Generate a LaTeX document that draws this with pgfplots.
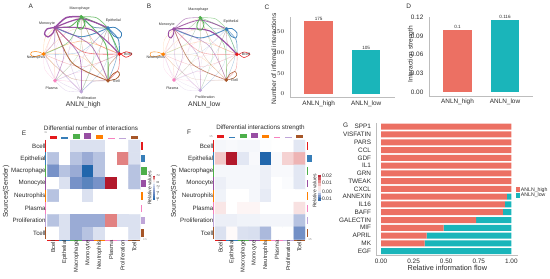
\documentclass[border=0pt]{standalone}
\usepackage{fontspec}
\setmainfont{Liberation Sans}
\usepackage{pgfplots}
\pgfplotsset{compat=1.18}
\definecolor{cBcell}{HTML}{E41A1C}
\definecolor{cEpi}{HTML}{377EB8}
\definecolor{cMac}{HTML}{4DAF4A}
\definecolor{cMon}{HTML}{984EA3}
\definecolor{cNeu}{HTML}{FF7F00}
\definecolor{cPla}{HTML}{F781BF}
\definecolor{cPro}{HTML}{BFA5D8}
\definecolor{cTce}{HTML}{A65628}
\definecolor{cHigh}{HTML}{EC7063}
\definecolor{cLow}{HTML}{1AB5BA}
\definecolor{axgrey}{HTML}{BDBDBD}
\definecolor{txt}{HTML}{2A2A2A}
\pgfplotsset{
  rwb/.style={colormap={rwb}{rgb255(0cm)=(33,102,172); rgb255(1cm)=(135,155,205); rgb255(2cm)=(255,255,255); rgb255(3cm)=(226,130,130); rgb255(4cm)=(178,24,43)}, point meta min=-1, point meta max=1},
  px/.style={scale only axis, anchor=south west, clip=false},
  classic/.style={px, axis lines=left, axis line style={axgrey, line width=0.8pt, -}, tick style={draw=none},
    ticklabel style={font=\fontsize{6.4}{7}\selectfont, text=txt},
    x tick label style={yshift=2.5pt},
    label style={font=\fontsize{6.6}{7}\selectfont, text=txt}},
  heat/.style={px, rwb, y dir=reverse, xmin=0, xmax=8, ymin=0, ymax=8, axis line style={draw=none}, tick style={draw=none}, axis on top,
    xtick={0.5,1.5,2.5,3.5,4.5,5.5,6.5,7.5}, ytick={0.5,1.5,2.5,3.5,4.5,5.5,6.5,7.5},
    xticklabels={Bcell,Epithelial,Macrophage,Monocyte,Neutrophils,Plasma,Proliferation,Tcell},
    yticklabels={Bcell,Epithelial,Macrophage,Monocyte,Neutrophils,Plasma,Proliferation,Tcell},
    xticklabel style={rotate=90, anchor=east, font=\fontsize{5.7}{6}\selectfont, text=txt, inner sep=1pt},
    yticklabel style={font=\fontsize{6.2}{7}\selectfont, text=txt, inner sep=1.5pt},
    ylabel style={font=\fontsize{6.9}{7}\selectfont, text=txt}},
  hid/.style={px, hide axis},
  net/.style={px, hide axis, y dir=reverse, xmin=0, xmax=130, ymin=0, ymax=110, width=130pt, height=110pt},
}
\newcommand\lab[4][]{\node[font=\fontsize{#2}{#2}\selectfont, text=txt, inner sep=0pt, #1] at (#3) {#4};}
% chord edges
\newif\ifpanelB
\newcommand\setnode[3]{\expandafter\def\csname nx#1\endcsname{#2}\expandafter\def\csname ny#1\endcsname{#3}}
\newcommand\edge[4]{%
  \ifpanelB\def\w{#4}\else\def\w{#3}\fi
  \pgfmathsetmacro\xa{\csname nx#1\endcsname}\pgfmathsetmacro\ya{\csname ny#1\endcsname}%
  \pgfmathsetmacro\xb{\csname nx#2\endcsname}\pgfmathsetmacro\yb{\csname ny#2\endcsname}%
  \pgfmathsetmacro\xm{(\xa+\xb)/2+0.17*(\yb-\ya)}\pgfmathsetmacro\ym{(\ya+\yb)/2-0.17*(\xb-\xa)}%
  \pgfmathsetmacro\op{min(1,0.12+0.6*\w)}%
  \pgfmathsetmacro\lw{0.75*\w}%
  \edef\tmp{\noexpand\addplot[smooth, no marks, c#1, line width=\lw pt, opacity=\op] coordinates {(\xa,\ya)(\xm,\ym)(\xb,\yb)};}\tmp}
\newcommand\alledges{%
 \edge{Pla}{Pro}{.4}{.35}\edge{Pla}{Neu}{.35}{.3}\edge{Pla}{Bcell}{.3}{.3}\edge{Pla}{Mac}{.3}{.3}\edge{Pla}{Epi}{.3}{.3}\edge{Pla}{Tce}{.5}{.45}\edge{Pla}{Mon}{.4}{.4}%
 \edge{Pro}{Neu}{.5}{.35}\edge{Pro}{Pla}{.5}{.4}\edge{Pro}{Bcell}{.5}{.3}\edge{Pro}{Epi}{.5}{.35}\edge{Pro}{Tce}{.7}{.4}\edge{Pro}{Mac}{.6}{.4}\edge{Pro}{Mon}{.9}{.6}%
 \edge{Neu}{Bcell}{.6}{.35}\edge{Neu}{Tce}{.4}{.3}\edge{Neu}{Pla}{.3}{.25}\edge{Neu}{Mac}{.3}{.25}\edge{Neu}{Mon}{.4}{.3}\edge{Neu}{Epi}{.3}{.25}%
 \edge{Bcell}{Tce}{.7}{.5}\edge{Bcell}{Mac}{.5}{.35}\edge{Bcell}{Epi}{.6}{.4}\edge{Bcell}{Neu}{.4}{.3}\edge{Bcell}{Mon}{.8}{.5}%
 \edge{Tce}{Neu}{.5}{.3}\edge{Tce}{Bcell}{.7}{.45}\edge{Tce}{Epi}{.5}{.45}\edge{Tce}{Mac}{.5}{.4}\edge{Tce}{Mon}{1.2}{.9}%
 \edge{Epi}{Tce}{.8}{.5}\edge{Epi}{Neu}{.5}{.3}\edge{Epi}{Pro}{.4}{.35}\edge{Epi}{Pla}{.3}{.25}\edge{Epi}{Bcell}{1.2}{.9}\edge{Epi}{Mac}{1.0}{.6}\edge{Epi}{Mon}{1.2}{1.2}%
 \edge{Mac}{Pla}{.4}{.3}\edge{Mac}{Pro}{.5}{.4}\edge{Mac}{Neu}{.8}{.4}\edge{Mac}{Tce}{1.2}{.7}\edge{Mac}{Bcell}{1.2}{.7}\edge{Mac}{Epi}{1.0}{.7}\edge{Mac}{Mon}{1.2}{.5}%
 \edge{Mon}{Neu}{.6}{.35}\edge{Mon}{Pla}{.7}{.5}\edge{Mon}{Pro}{1.0}{.6}\edge{Mon}{Tce}{1.0}{.7}\edge{Mon}{Bcell}{1.4}{1.5}\edge{Mon}{Epi}{1.6}{1.2}\edge{Mon}{Mac}{2.0}{.8}%
}
\newcommand\tb[3]{\addplot[ybar, bar width=0.6, bar shift=0pt, fill=#1, draw=none] coordinates {(#2,#3)};}
\newcommand\rb[3]{\addplot[xbar, bar width=0.6, bar shift=0pt, fill=#1, draw=none] coordinates {(#3,#2)};}
\newcommand\strips{%
 \addplot[cBcell,line width=1.1pt] coordinates {(-0.12,0)(-0.12,1)};\addplot[cEpi,line width=1.1pt] coordinates {(-0.12,1)(-0.12,2)};
 \addplot[cMac,line width=1.1pt] coordinates {(-0.12,2)(-0.12,3)};\addplot[cMon,line width=1.1pt] coordinates {(-0.12,3)(-0.12,4)};
 \addplot[cNeu,line width=1.1pt] coordinates {(-0.12,4)(-0.12,5)};\addplot[cPla,line width=1.1pt] coordinates {(-0.12,5)(-0.12,6)};
 \addplot[cPro,line width=1.1pt] coordinates {(-0.12,6)(-0.12,7)};\addplot[cTce,line width=1.1pt] coordinates {(-0.12,7)(-0.12,8)};
 \addplot[cBcell,line width=1.1pt] coordinates {(0,8.1)(1,8.1)};\addplot[cEpi,line width=1.1pt] coordinates {(1,8.1)(2,8.1)};
 \addplot[cMac,line width=1.1pt] coordinates {(2,8.1)(3,8.1)};\addplot[cMon,line width=1.1pt] coordinates {(3,8.1)(4,8.1)};
 \addplot[cNeu,line width=1.1pt] coordinates {(4,8.1)(5,8.1)};\addplot[cPla,line width=1.1pt] coordinates {(5,8.1)(6,8.1)};
 \addplot[cPro,line width=1.1pt] coordinates {(6,8.1)(7,8.1)};\addplot[cTce,line width=1.1pt] coordinates {(7,8.1)(8,8.1)};
}
\begin{document}
\begin{tikzpicture}[x=1pt,y=1pt]
\path[use as bounding box] (0,0) rectangle (550,279);

%% ---------- A ----------
\panelBfalse
\setnode{Mac}{56.3}{6.7}\setnode{Epi}{83}{18}\setnode{Bcell}{94.5}{44}\setnode{Tce}{83}{70.7}
\setnode{Pro}{56.3}{81.7}\setnode{Pla}{30}{70.7}\setnode{Neu}{18.7}{44}\setnode{Mon}{30}{17.5}
\begin{axis}[net, at={(25pt,159pt)}]
\alledges
\addplot[smooth, cMac, line width=.9pt] coordinates {(56.3,6.7)(52.5,13)(53,18)(57,19)(60,13)(56.3,6.7)};
\addplot[smooth, cEpi, line width=.8pt] coordinates {(83,18)(90,17.5)(96.5,23)(95,28)(89,26)(83,18)};
\addplot[smooth, cBcell, line width=.6pt] coordinates {(96,44)(101,41.8)(107,44)(101,47.2)(96,44)};
\addplot[smooth, cTce, line width=.7pt] coordinates {(83,70.7)(88,64)(93,61.5)(94.5,65)(91,69)(83,70.7)};
\addplot[smooth, cMon, line width=1.3pt] coordinates {(30,17.5)(22,19)(19.5,24)(23,27)(28,23)(30,17.5)};
\addplot[smooth, cNeu, line width=.5pt] coordinates {(18.7,44)(13,41.8)(7,42)(5.7,44.5)(9,46.7)(18.7,44)};
\addplot[only marks, mark=*, mark size=1.6pt, cMac] coordinates {(56.3,6.7)};
\addplot[only marks, mark=*, mark size=1.6pt, cEpi] coordinates {(83,18)};
\addplot[only marks, mark=*, mark size=1.6pt, cBcell] coordinates {(94.5,44)};
\addplot[only marks, mark=*, mark size=1.6pt, cTce] coordinates {(83,70.7)};
\addplot[only marks, mark=*, mark size=1.6pt, cPro] coordinates {(56.3,81.7)};
\addplot[only marks, mark=*, mark size=1.6pt, cPla] coordinates {(30,70.7)};
\addplot[only marks, mark=*, mark size=1.6pt, cNeu] coordinates {(18.7,44)};
\addplot[only marks, mark=*, mark size=1.6pt, cMon] coordinates {(30,17.5)};
\end{axis}
\lab{3.6}{79.7,270.7}{Macrophage}\lab{3.6}{113.3,258.3}{Epithelial}\lab{3.6}{128,225}{Bcell}\lab{3.6}{116,198}{Tcell}
\lab{3.6}{86.7,180.3}{Proliferation}\lab{3.6}{51.7,190.7}{Plasma}\lab{3.6}{36,221.7}{Neutrophils}\lab{3.6}{47,255}{Monocyte}
\lab{6.8}{83.3,174}{ANLN\_high}

%% ---------- B ----------
\panelBtrue
\setnode{Mac}{60.3}{7.7}\setnode{Epi}{86.7}{19}\setnode{Bcell}{97}{44.3}\setnode{Tce}{86.3}{70}
\setnode{Pro}{60.3}{80.3}\setnode{Pla}{34}{70}\setnode{Neu}{23.3}{44.3}\setnode{Mon}{34}{19}
\begin{axis}[net, at={(140pt,159pt)}]
\alledges
\addplot[smooth, cMac, line width=.7pt] coordinates {(60.3,7.7)(57,14)(57.5,19)(61.5,20)(64,14)(60.3,7.7)};
\addplot[smooth, cEpi, line width=.7pt] coordinates {(86.7,19)(92,18.5)(97,23)(96,28)(91,26)(86.7,19)};
\addplot[smooth, cBcell, line width=.5pt] coordinates {(99,44.3)(104,42)(110,44.3)(104,47.5)(99,44.3)};
\addplot[smooth, cTce, line width=.5pt] coordinates {(86.3,70)(90,64)(95,61.5)(96.7,65)(93,68.5)(86.3,70)};
\addplot[smooth, cMon, line width=.9pt] coordinates {(34,19)(29,21)(28.5,26)(31,28)(33.5,24)(34,19)};
\addplot[smooth, cNeu, line width=.4pt] coordinates {(23.3,44.3)(17,42)(11,42.3)(10,44.7)(13,47)(23.3,44.3)};
\addplot[only marks, mark=*, mark size=1.6pt, cMac] coordinates {(60.3,7.7)};
\addplot[only marks, mark=*, mark size=1.6pt, cEpi] coordinates {(86.7,19)};
\addplot[only marks, mark=*, mark size=1.6pt, cBcell] coordinates {(97,44.3)};
\addplot[only marks, mark=*, mark size=1.6pt, cTce] coordinates {(86.3,70)};
\addplot[only marks, mark=*, mark size=1.6pt, cPro] coordinates {(60.3,80.3)};
\addplot[only marks, mark=*, mark size=1.6pt, cPla] coordinates {(34,70)};
\addplot[only marks, mark=*, mark size=1.6pt, cNeu] coordinates {(23.3,44.3)};
\addplot[only marks, mark=*, mark size=1.6pt, cMon] coordinates {(34,19)};
\end{axis}
\lab{3.6}{198.3,269.7}{Macrophage}\lab{3.6}{231,257.7}{Epithelial}\lab{3.6}{245.7,225}{Bcell}\lab{3.6}{234.3,198.3}{Tcell}
\lab{3.6}{205,181.7}{Proliferation}\lab{3.6}{172.3,191}{Plasma}\lab{3.6}{155.7,221.7}{Neutrophils}\lab{3.6}{166.7,254}{Monocyte}
\lab{6.8}{204.3,174}{ANLN\_low}

%% ---------- C ----------
\begin{axis}[classic, at={(290pt,181.7pt)}, width=105pt, height=80.3pt,
  xmin=-0.604, xmax=1.606, ymin=-7.9, ymax=184.6, ytick={0,50,100,150},
  xtick={0,1}, xticklabels={ANLN\_high,ANLN\_low},
  ylabel={Number of inferred interactions},
  ylabel style={at={(axis description cs:-0.155,0.48)}, anchor=center},
  nodes near coords, point meta=explicit symbolic,
  every node near coord/.append style={font=\fontsize{4.6}{5}\selectfont, text=txt, inner sep=0.7pt}]
\addplot[ybar, bar width=28.5pt, bar shift=0pt, fill=cHigh, draw=none] coordinates {(0,175)[175]};
\addplot[ybar, bar width=28.5pt, bar shift=0pt, fill=cLow, draw=none] coordinates {(1,105)[105]};
\end{axis}

%% ---------- D ----------
\begin{axis}[classic, at={(429pt,183pt)}, width=104pt, height=79pt,
  xmin=-0.6, xmax=1.589, ymin=-0.0064, ymax=0.1204, ytick={0,0.03,0.06,0.09,0.12},
  yticklabels={0.00,0.03,0.06,0.09,0.12},
  xtick={0,1}, xticklabels={ANLN\_high,ANLN\_low},
  ylabel={Interaction strength},
  ylabel style={at={(axis description cs:-0.175,0.53)}, anchor=center},
  nodes near coords, point meta=explicit symbolic,
  every node near coord/.append style={font=\fontsize{4.6}{5}\selectfont, text=txt, inner sep=0.7pt}]
\addplot[ybar, bar width=28.5pt, bar shift=0pt, fill=cHigh, draw=none] coordinates {(0,0.1)[0.1]};
\addplot[ybar, bar width=28.5pt, bar shift=0pt, fill=cLow, draw=none] coordinates {(1,0.116)[0.116]};
\end{axis}

%% ---------- E ----------
\begin{axis}[heat, at={(47.3pt,39.7pt)}, width=92.8pt, height=99.3pt,
  ylabel={Sources(Sender)}, ylabel style={at={(axis description cs:-0.445,0.48)}, anchor=center}]
\addplot[matrix plot*, mesh/cols=8, point meta=explicit] coordinates {
(0.5,0.5)[0](1.5,0.5)[0](2.5,0.5)[-.15](3.5,0.5)[-.15](4.5,0.5)[-.15](5.5,0.5)[0](6.5,0.5)[0](7.5,0.5)[-.15]
(0.5,1.5)[-.3](1.5,1.5)[0](2.5,1.5)[-.3](3.5,1.5)[-.42](4.5,1.5)[-.3](5.5,1.5)[0](6.5,1.5)[.5](7.5,1.5)[-.15]
(0.5,2.5)[-.58](1.5,2.5)[-.3](2.5,2.5)[-.42](3.5,2.5)[-1](4.5,2.5)[-.3](5.5,2.5)[0](6.5,2.5)[0](7.5,2.5)[-.3]
(0.5,3.5)[0](1.5,3.5)[-.15](2.5,3.5)[-.58](3.5,3.5)[-.72](4.5,3.5)[-.58](5.5,3.5)[1](6.5,3.5)[0](7.5,3.5)[-.3]
(0.5,4.5)[-.3](1.5,4.5)[0](2.5,4.5)[0](3.5,4.5)[-.15](4.5,4.5)[0](5.5,4.5)[0](6.5,4.5)[0](7.5,4.5)[0]
(0.5,5.5)[0](1.5,5.5)[0](2.5,5.5)[0](3.5,5.5)[0](4.5,5.5)[0](5.5,5.5)[0](6.5,5.5)[0](7.5,5.5)[0]
(0.5,6.5)[-.3](1.5,6.5)[-.15](2.5,6.5)[-.42](3.5,6.5)[-.42](4.5,6.5)[-.42](5.5,6.5)[.5](6.5,6.5)[-.15](7.5,6.5)[-.15]
(0.5,7.5)[0](1.5,7.5)[-.15](2.5,7.5)[-.42](3.5,7.5)[-.3](4.5,7.5)[-.15](5.5,7.5)[0](6.5,7.5)[0](7.5,7.5)[-.15]
};
\strips
\end{axis}
\begin{axis}[hid, at={(47.3pt,140.3pt)}, width=92.8pt, height=6pt, xmin=0, xmax=8, ymin=0, ymax=6]
\tb{cBcell}{0.5}{2.7}\tb{cEpi}{1.5}{1.3}\tb{cMac}{2.5}{4.3}\tb{cMon}{3.5}{5.7}\tb{cNeu}{4.5}{3.3}\tb{cPla}{5.5}{1}\tb{cPro}{6.5}{1}\tb{cTce}{7.5}{2.3}
\end{axis}
\begin{axis}[hid, at={(141pt,39.7pt)}, width=6pt, height=99.3pt, xmin=0, xmax=6, ymin=0, ymax=8, y dir=reverse]
\rb{cBcell}{0.5}{2}\rb{cEpi}{1.5}{3.7}\rb{cMac}{2.5}{6}\rb{cMon}{3.5}{5.3}\rb{cNeu}{4.5}{1.7}\rb{cPla}{5.5}{0.3}\rb{cPro}{6.5}{4.5}\rb{cTce}{7.5}{2.7}
\end{axis}
\begin{axis}[hid, rwb, at={(152.7pt,79.3pt)}, width=2.2pt, height=24pt, xmin=-1, xmax=1, ymin=175.7, ymax=199.7, y dir=reverse]
\addplot[mesh, line width=2.2pt, point meta=explicit] coordinates {(0,175.7)[1](0,177.3)[.7](0,179)[.4](0,180.5)[.2](0,182)[0](0,184)[-.12](0,186)[-.25](0,188)[-.35](0,190)[-.45](0,192)[-.55](0,194)[-.65](0,196)[-.78](0,198)[-.9](0,199.7)[-1]};
\end{axis}
\lab[rotate=90]{5}{149.5,91}{Relative values}
\lab[rotate=90]{3.6}{158,103.3}{2}\lab[rotate=90]{3.6}{158,97}{0}\lab[rotate=90]{3.6}{158,91.5}{−2}\lab[rotate=90]{3.6}{158,85.5}{−4}\lab[rotate=90]{3.6}{158,79.5}{−6}
\lab[text=gray]{2.6}{45.7,146}{15}\lab[text=gray]{2.6}{145,39}{0 5}
\lab{6.3}{91,151}{Differential number of interactions}
\lab{6.5}{24,146}{E}

%% ---------- F ----------
\begin{axis}[heat, at={(215pt,39.7pt)}, width=90pt, height=99.3pt,
  ylabel={Sources(Sender)}, ylabel style={at={(axis description cs:-0.455,0.48)}, anchor=center}]
\addplot[matrix plot*, mesh/cols=8, point meta=explicit] coordinates {
(0.5,0.5)[-.04](1.5,0.5)[-.03](2.5,0.5)[-.04](3.5,0.5)[-.04](4.5,0.5)[-.01](5.5,0.5)[0](6.5,0.5)[0](7.5,0.5)[-.12]
(0.5,1.5)[.22](1.5,1.5)[1](2.5,1.5)[-.12](3.5,1.5)[-.03](4.5,1.5)[-1](5.5,1.5)[-.03](6.5,1.5)[.18](7.5,1.5)[.3]
(0.5,2.5)[-.04](1.5,2.5)[-.04](2.5,2.5)[-.04](3.5,2.5)[-.04](4.5,2.5)[-.08](5.5,2.5)[-.03](6.5,2.5)[-.03](7.5,2.5)[-.12]
(0.5,3.5)[-.08](1.5,3.5)[-.04](2.5,3.5)[-.04](3.5,3.5)[-.04](4.5,3.5)[-.08](5.5,3.5)[0](6.5,3.5)[-.02](7.5,3.5)[-.12]
(0.5,4.5)[-.06](1.5,4.5)[0](2.5,4.5)[0](3.5,4.5)[-.04](4.5,4.5)[-.1](5.5,4.5)[0](6.5,4.5)[0](7.5,4.5)[0]
(0.5,5.5)[.1](1.5,5.5)[0](2.5,5.5)[.04](3.5,5.5)[.04](4.5,5.5)[0](5.5,5.5)[0](6.5,5.5)[0](7.5,5.5)[.12]
(0.5,6.5)[-.08](1.5,6.5)[-.08](2.5,6.5)[-.06](3.5,6.5)[-.06](4.5,6.5)[-.05](5.5,6.5)[-.05](6.5,6.5)[-.05](7.5,6.5)[-.3]
(0.5,7.5)[-.15](1.5,7.5)[.02](2.5,7.5)[-.15](3.5,7.5)[-.16](4.5,7.5)[-.35](5.5,7.5)[0](6.5,7.5)[0](7.5,7.5)[-.6]
};
\strips
\end{axis}
\begin{axis}[hid, at={(215pt,141pt)}, width=90pt, height=6pt, xmin=0, xmax=8, ymin=0, ymax=6]
\tb{cBcell}{0.5}{3}\tb{cEpi}{1.5}{1.3}\tb{cMac}{2.5}{4.3}\tb{cMon}{3.5}{5.5}\tb{cNeu}{4.5}{3}\tb{cPla}{5.5}{1}\tb{cPro}{6.5}{1}\tb{cTce}{7.5}{3}
\end{axis}
\begin{axis}[hid, at={(306.7pt,39.7pt)}, width=6pt, height=99.3pt, xmin=0, xmax=6, ymin=0, ymax=8, y dir=reverse]
\rb{cBcell}{0.5}{1.2}\rb{cEpi}{1.5}{5.7}\rb{cMac}{2.5}{1}\rb{cMon}{3.5}{1}\rb{cNeu}{4.5}{1}\rb{cPla}{5.5}{1}\rb{cPro}{6.5}{.7}\rb{cTce}{7.5}{1.3}
\end{axis}
\begin{axis}[hid, rwb, at={(318.3pt,78.3pt)}, width=2.2pt, height=26pt, xmin=-1, xmax=1, ymin=174.7, ymax=200.7, y dir=reverse]
\addplot[mesh, line width=2.2pt, point meta=explicit] coordinates {(0,174.7)[1](0,177)[.8](0,180)[.55](0,183)[.35](0,186)[.18](0,191.3)[0](0,193)[-.2](0,195)[-.45](0,197)[-.65](0,199)[-.85](0,200.7)[-1]};
\end{axis}
\lab[rotate=90]{5}{314.5,88}{Relative values}
\lab[anchor=east]{5}{332,103.3}{0.02}\lab[anchor=east]{5}{332,96.3}{0.01}\lab[anchor=east]{5}{332,87.7}{0.00}\lab[anchor=east]{5}{332,80}{−0.01}
\lab[text=gray]{2.8}{211,142}{15}\lab[text=gray]{2.8}{310,39}{15}
\lab{6.3}{260.5,151}{Differential interactions strength}
\lab{6.5}{189,147}{F}

%% ---------- G ----------
\begin{axis}[classic, at={(376.7pt,23.3pt)}, width=141.3pt, height=132.8pt,
  y dir=reverse, xmin=-0.033, xmax=1.051, ymin=-0.49, ymax=16.59,
  xbar stacked, bar width=6pt,
  xticklabel pos=upper,
  xtick={0,0.25,0.5,0.75,1}, xticklabels={0.00,0.25,0.50,0.75,1.00},
  ytick={0,...,16},
  yticklabels={SPP1,VISFATIN,PARS,CCL,GDF,IL1,GRN,TWEAK,CXCL,ANNEXIN,IL16,BAFF,GALECTIN,MIF,APRIL,MK,EGF},
  legend style={at={(0.984,0.474)}, anchor=west, draw=none, fill=none, font=\fontsize{5.2}{5.4}\selectfont, text=txt, inner sep=0pt, outer sep=0pt, row sep=-0.5pt, nodes={inner sep=0.5pt}},
  legend cell align=left]
\addplot[fill=cHigh, draw=none, legend image code/.code={\path[fill=cHigh, x=1pt, y=1pt] (0pt,-2.5pt) -- (4.7pt,-2.5pt) -- (4.7pt,2.5pt) -- (0pt,2.5pt) -- cycle;}] coordinates {(1,0)(1,1)(1,2)(1,3)(1,4)(1,5)(1,6)(1,7)(1,8)(0.965,9)(0.95,10)(0.935,11)(0.73,12)(0.48,13)(0.35,14)(0.335,15)(0,16)};
\addplot[fill=cLow, draw=none, legend image code/.code={\path[fill=cLow, x=1pt, y=1pt] (0pt,-2.5pt) -- (4.7pt,-2.5pt) -- (4.7pt,2.5pt) -- (0pt,2.5pt) -- cycle;}] coordinates {(0,0)(0,1)(0,2)(0,3)(0,4)(0,5)(0,6)(0,7)(0,8)(0.035,9)(0.05,10)(0.065,11)(0.27,12)(0.52,13)(0.65,14)(0.665,15)(1,16)};
\legend{ANLN\_high,ANLN\_low}
\end{axis}
\lab{7.3}{447.3,11}{Relative information flow}
\lab{6.5}{345.7,154}{G}
\lab{6.5}{30.7,273}{A}\lab{6.5}{149,273}{B}\lab{6.5}{267,272}{C}\lab{6.5}{408.7,272.3}{D}
\end{tikzpicture}
\end{document}
